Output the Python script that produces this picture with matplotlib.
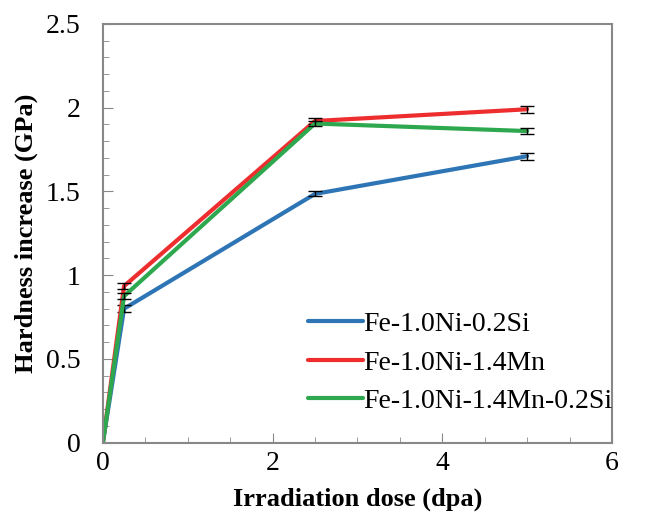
import matplotlib
matplotlib.use('Agg')
from matplotlib import pyplot as plt
from matplotlib.ticker import MultipleLocator

dose = [0, 0.25, 2.5, 5]

labels = ['Fe-1.0Ni-0.2Si', 'Fe-1.0Ni-1.4Mn', 'Fe-1.0Ni-1.4Mn-0.2Si']
colors = ['#2E75B6', '#EE2E2E', '#2DA84E']

h_si = [0, 0.80, 1.485, 1.71]
h_mn = [0, 0.935, 1.92, 1.99]
h_mnsi = [0, 0.875, 1.905, 1.86]

err_si = [0, 0.02, 0.015, 0.02]
err_mn = [0, 0.02, 0.015, 0.02]
err_mnsi = [0, 0.02, 0.015, 0.02]

plt.rcParams['font.family'] = ['Liberation Serif', 'DejaVu Serif']

fig = plt.figure(figsize=(6.51, 5.29), dpi=100)
ax = fig.add_axes([0.158, 0.163, 0.782, 0.792])

for y, e, c, lab in zip([h_si, h_mn, h_mnsi], [err_si, err_mn, err_mnsi], colors, labels):
    ax.plot(dose, y, color=c, lw=3, label=lab, solid_capstyle='round')
    ax.errorbar(dose[1:], y[1:], yerr=e[1:], fmt='none', ecolor='black',
                elinewidth=1, capsize=5, capthick=1)

ax.set_xlim(0, 6)
ax.set_ylim(0, 2.5)
ax.xaxis.set_major_locator(MultipleLocator(2))
ax.xaxis.set_minor_locator(MultipleLocator(0.5))
ax.yaxis.set_major_locator(MultipleLocator(0.5))
ax.yaxis.set_minor_locator(MultipleLocator(0.1))
ax.set_yticks([0, 0.5, 1, 1.5, 2, 2.5])
ax.set_yticklabels(['0', '0.5', '1', '1.5', '2', '2.5'])

ax.tick_params(which='both', direction='in', color='#888888', labelsize=20)
ax.tick_params(axis='x', pad=6)
ax.tick_params(axis='y', pad=16)
ax.tick_params(which='major', length=7)
ax.tick_params(which='minor', length=4)
for s in ax.spines.values():
    s.set_color('#888888')
    s.set_linewidth(1.5)

ax.set_xlabel('Irradiation dose (dpa)', fontsize=19, fontweight='bold', labelpad=8)
ax.set_ylabel('Hardness increase (GPa)', fontsize=19, fontweight='bold', labelpad=6)

ax.legend(loc='lower right', bbox_to_anchor=(1.05, 0.009), frameon=False, fontsize=20,
          handlelength=2.0, handletextpad=0.0, labelspacing=0.47)

fig.savefig('out.png', dpi=100)
